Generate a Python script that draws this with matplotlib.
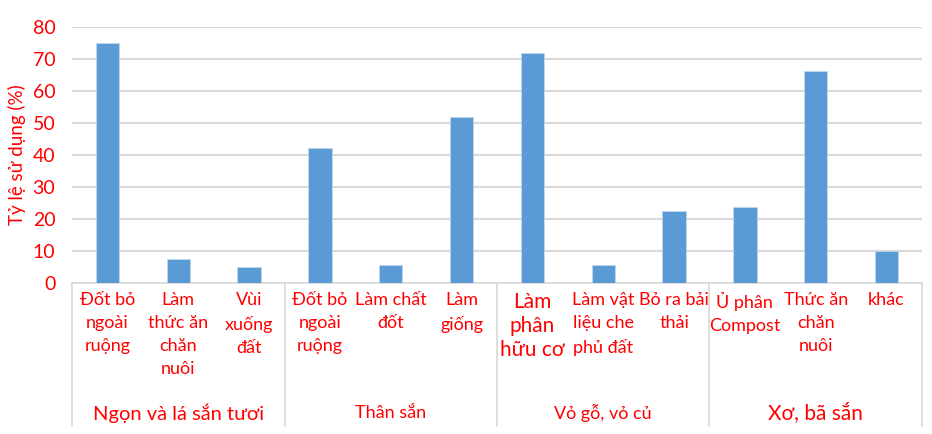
import matplotlib
matplotlib.use("Agg")
import matplotlib.pyplot as plt
from matplotlib.lines import Line2D
from matplotlib.transforms import blended_transform_factory

plt.rcParams['font.family'] = ['Lato', 'DejaVu Sans']

# Usage rate of each cassava by-product, grouped by part of the plant
groups = ["Ngọn và lá sắn tươi", "Thân sắn", "Vỏ gỗ, vỏ củ", "Xơ, bã sắn"]
categories = [
    "Đốt bỏ\nngoài\nruộng", "Làm\nthức ăn\nchăn\nnuôi", "Vùi\nxuống\nđất",
    "Đốt bỏ\nngoài\nruộng", "Làm chất\nđốt", "Làm\ngiống",
    "Làm\nphân\nhữu cơ", "Làm vật\nliệu che\nphủ đất", "Bỏ ra bải\nthải",
    "Ủ phân\nCompost", "Thức ăn\nchăn\nnuôi", "khác",
]
values = [75.0, 7.4, 5.0, 42.3, 5.5, 51.8, 71.9, 5.5, 22.4, 23.8, 66.2, 10.0]
group_sizes = [3, 3, 3, 3]
yticks = [0, 10, 20, 30, 40, 50, 60, 70, 80]
ylabel = "Tỷ lệ sử dụng (%)"

RED = "#ff0000"
BLUE = "#5b9bd5"
GRID = "#d9d9d9"

W, H = 932, 434
fig = plt.figure(figsize=(W / 100, H / 100), dpi=100)
ax = fig.add_axes([72 / W, 1 - 283 / H, 850 / W, (283 - 27) / H])

x = list(range(len(values)))
ax.bar(x, values, width=0.33, color=BLUE, edgecolor="#bdd7ee", linewidth=0.6, zorder=3)

ax.set_xlim(-0.5, len(values) - 0.5)
ax.set_ylim(0, 80)
ax.set_yticks(yticks)
ax.set_yticklabels([str(t) for t in yticks], color=RED, fontsize=14)
ax.tick_params(axis="y", length=0, pad=12)
ax.set_xticks([])
ax.grid(axis="y", color=GRID, linewidth=1.5, zorder=0)
for s in ["top", "right", "left"]:
    ax.spines[s].set_visible(False)
ax.spines["bottom"].set_color(GRID)
ax.spines["bottom"].set_linewidth(1.2)

fig.text(17 / W, 1 - 155 / H, ylabel, rotation=90, color=RED, fontsize=13.5,
         ha="center", va="center")

# Category labels under each bar
tr = blended_transform_factory(ax.transData, fig.transFigure)
cat_sizes = [13, 13, 13, 13, 13, 13, 15, 13, 13, 13, 13, 13]
for xi, lab, fs in zip(x, categories, cat_sizes):
    ls = 1.55 if fs == 13 else 1.25
    ax.text(xi, 1 - 292 / H, lab, transform=tr, ha="center", va="top",
            color=RED, fontsize=fs, linespacing=ls, clip_on=False)

# Group labels and separators
group_fs = [14.5, 13, 13, 15]
start = 0
bounds = [-0.5]
for g, n, fs in zip(groups, group_sizes, group_fs):
    center = start + (n - 1) / 2
    ax.text(center, 1 - 413 / H, g, transform=tr, ha="center", va="center",
            color=RED, fontsize=fs, clip_on=False)
    start += n
    bounds.append(start - 0.5)

for b in bounds:
    fig.add_artist(Line2D([b, b], [1 - 283 / H, 1 - 426 / H], transform=tr,
                          color=GRID, linewidth=1.2))

fig.savefig("out.png", dpi=100, facecolor="white")
